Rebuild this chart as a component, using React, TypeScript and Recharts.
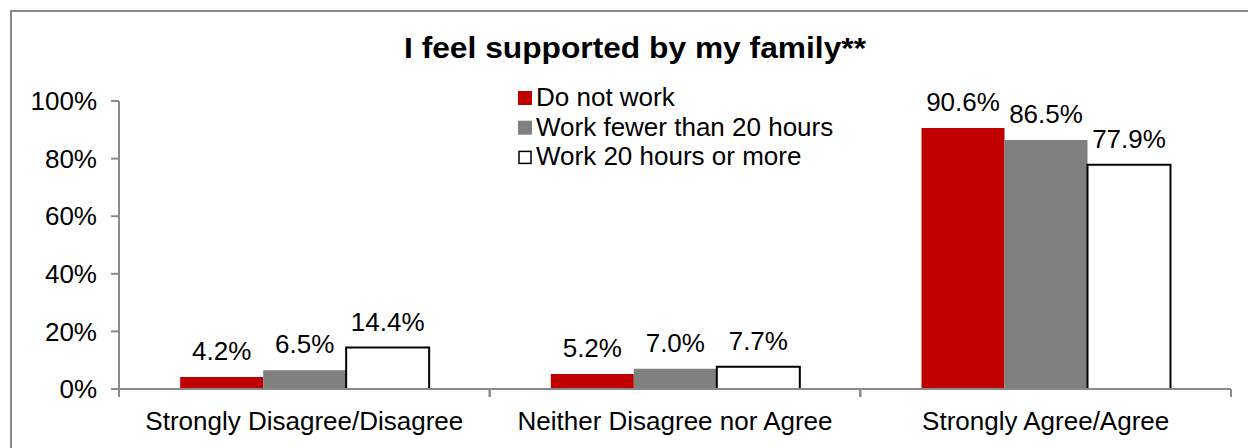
import React from 'react';
import { BarChart, Bar, XAxis, YAxis, Legend, LabelList } from 'recharts';

const categories = ['Strongly Disagree/Disagree', 'Neither Disagree nor Agree', 'Strongly Agree/Agree'];
const doNotWork = [0.042, 0.052, 0.906];
const fewerThan20 = [0.065, 0.07, 0.865];
const twentyOrMore = [0.144, 0.077, 0.779];
const seriesNames = ['Do not work', 'Work fewer than 20 hours', 'Work 20 hours or more'];
const yTicks = [0, 0.2, 0.4, 0.6, 0.8, 1];
const title = 'I feel supported by my family**';

const data = categories.map((c, i) => ({
  category: c,
  dnw: doNotWork[i],
  few: fewerThan20[i],
  more: twentyOrMore[i],
}));

const FONT = '"Liberation Sans", Arial, sans-serif';
const AXIS = '#8a8a8a';
const seriesStyle = [
  { key: 'dnw', fill: '#C00000', stroke: 'none', sw: 0 },
  { key: 'few', fill: '#808080', stroke: 'none', sw: 0 },
  { key: 'more', fill: '#FFFFFF', stroke: '#000000', sw: 2 },
];

const pct = (v: number) => `${Math.round(v * 100)}%`;
const pct1 = (v: any) => `${(Number(v) * 100).toFixed(1)}%`;

const XTick = (props: any) => {
  const { x, y, payload } = props;
  const half = payload && payload.offset != null ? payload.offset : 185.3;
  return (
    <g>
      <line x1={x - half} x2={x - half} y1={y - 8} y2={y} stroke={AXIS} strokeWidth={2} />
      <line x1={x + half} x2={x + half} y1={y - 8} y2={y} stroke={AXIS} strokeWidth={2} />
      <text x={x} y={y + 33} textAnchor="middle" fontSize={26} fontFamily={FONT} fill="#000">
        {payload.value}
      </text>
    </g>
  );
};

const renderLegend = (props: any) => {
  const payload = [...(props.payload || [])].sort(
    (a: any, b: any) =>
      seriesStyle.findIndex((s) => s.key === a.dataKey) - seriesStyle.findIndex((s) => s.key === b.dataKey)
  );
  return (
    <svg width={360} height={100} style={{ display: 'block', overflow: 'visible' }}>
      {payload.map((p: any, i: number) => {
        const st = seriesStyle.find((s) => s.key === p.dataKey) || seriesStyle[i];
        const base = 22 + i * 29.7;
        return (
          <g key={i}>
            <rect
              x={st.sw ? 5 : 4}
              y={base - 15 + (st.sw ? 1 : 0)}
              width={st.sw ? 12 : 14}
              height={st.sw ? 12 : 14}
              fill={st.fill}
              stroke={st.stroke}
              strokeWidth={st.sw ? 1.5 : 0}
            />
            <text x={22} y={base} fontSize={26} fontFamily={FONT} fill="#000">
              {p.value}
            </text>
          </g>
        );
      })}
    </svg>
  );
};

export default function App() {
  return (
    <div
      style={{
        position: 'absolute',
        left: 0,
        top: 0,
        width: 1248,
        height: 448,
        overflow: 'hidden',
        background: '#fff',
        fontFamily: FONT,
      }}
    >
      <svg width={1248} height={448} style={{ position: 'absolute', left: 0, top: 0 }}>
        <rect x={11} y={11} width={1300} height={500} fill="none" stroke={AXIS} strokeWidth={2} />
        <text
          x={635}
          y={58}
          textAnchor="middle"
          fontSize={29}
          fontWeight="bold"
          fontFamily={FONT}
          textLength={462}
          lengthAdjust="spacingAndGlyphs"
          fill="#000"
        >
          {title}
        </text>
      </svg>
      <div style={{ position: 'absolute', left: 0, top: 0 }}>
        <BarChart
          width={1248}
          height={448}
          data={data}
          margin={{ top: 101, right: 17, bottom: 0, left: 0 }}
          barCategoryGap="16.5%"
          barGap={0}
          style={{ fontFamily: FONT }}
        >
          <XAxis
            dataKey="category"
            height={59}
            axisLine={{ stroke: AXIS, strokeWidth: 2 }}
            tickLine={false}
            tickSize={8}
            tickMargin={0}
            tick={<XTick />}
            interval={0}
          />
          <YAxis
            width={119}
            domain={[0, 1]}
            ticks={yTicks}
            tickFormatter={pct}
            axisLine={{ stroke: AXIS, strokeWidth: 2 }}
            tickLine={{ stroke: AXIS, strokeWidth: 2 }}
            tickSize={8}
            tickMargin={14}
            tick={{ fontSize: 26, fill: '#000', fontFamily: FONT }}
            interval={0}
          />
          <Legend
            layout="vertical"
            align="center"
            verticalAlign="middle"
            itemSorter={null as any}
            content={renderLegend}
            wrapperStyle={{ position: 'absolute', left: 514, top: 84, width: 360, height: 100, overflow: 'visible' }}
          />
          {seriesStyle.map((s, i) => (
            <Bar
              key={s.key}
              dataKey={s.key}
              name={seriesNames[i]}
              fill={s.fill}
              stroke={s.stroke}
              strokeWidth={s.sw}
              isAnimationActive={false}
            >
              <LabelList
                dataKey={s.key}
                position="top"
                offset={17}
                formatter={pct1}
                fontSize={26}
                fill="#000"
                fontFamily={FONT}
              />
            </Bar>
          ))}
        </BarChart>
      </div>
    </div>
  );
}
